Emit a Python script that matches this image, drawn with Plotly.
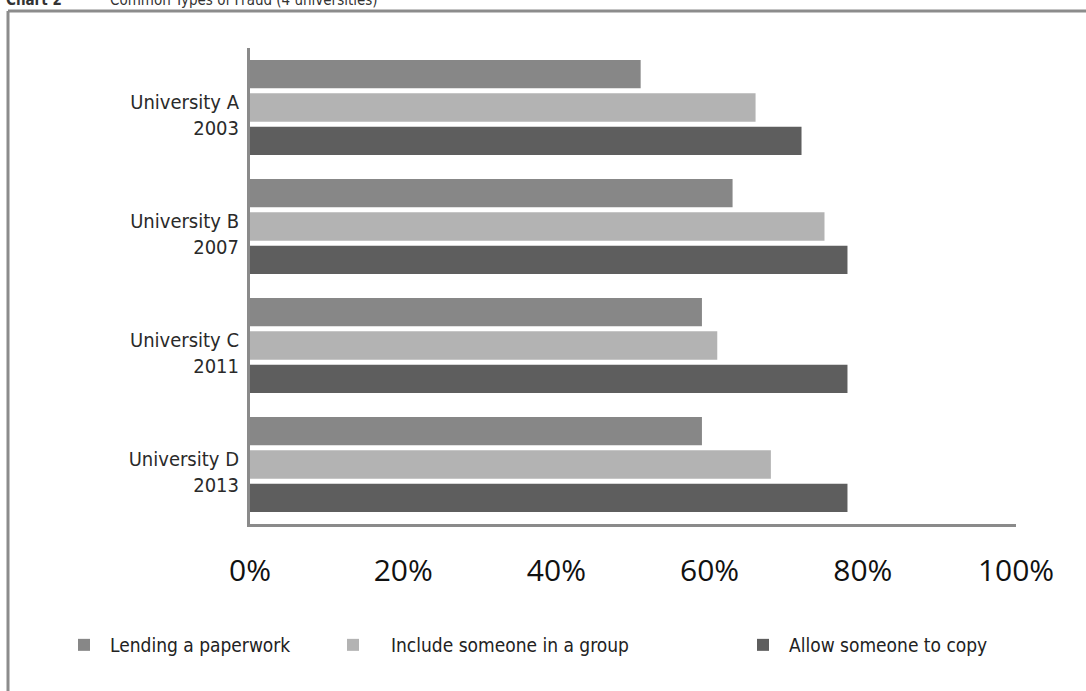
import plotly.graph_objects as go

# Survey results: share of students reporting each type of fraud
universities = ["University A<br>2003", "University B<br>2007",
                "University C<br>2011", "University D<br>2013"]
lending_paperwork = [51, 63, 59, 59]
include_in_group = [66, 75, 61, 68]
allow_copy = [72, 78, 78, 78]

series_names = ["Lending a paperwork", "Include someone in a group", "Allow someone to copy"]
series_values = [lending_paperwork, include_in_group, allow_copy]
series_colors = ["#878787", "#b3b3b3", "#5e5e5e"]
legend_ids = ["legend", "legend2", "legend3"]

x_ticks = [0, 20, 40, 60, 80, 100]
x_tick_text = [f"{v}%" for v in x_ticks]

W, H = 1086, 691
ML, MR, MT, MB = 250, 70, 48, 167
PW, PH = W - ML - MR, H - MT - MB


def px_to_paper_x(px):
    return (px - ML) / PW


def px_to_paper_y(py):
    return 1 - (py - MT) / PH


NARROW = "DejaVu Sans Condensed, Liberation Sans Narrow, sans-serif"

fig = go.Figure()
for name, vals, color, lg in zip(series_names, series_values, series_colors, legend_ids):
    fig.add_trace(go.Bar(
        y=universities, x=vals, name=name, orientation="h",
        marker=dict(color=color, line=dict(width=0)),
        legend=lg, showlegend=True,
    ))

legend_common = dict(
    orientation="h", xref="container", yref="container",
    yanchor="middle", y=1 - 645 / H, xanchor="left",
    font=dict(family=NARROW, size=19, color="#222"),
    bgcolor="rgba(0,0,0,0)",
)

fig.update_layout(
    width=W, height=H,
    margin=dict(l=ML, r=MR, t=MT, b=MB),
    paper_bgcolor="white", plot_bgcolor="white",
    showlegend=True,
    barmode="group", bargap=0.16, bargroupgap=0.15,
    legend=dict(legend_common, x=58 / W, itemwidth=42),
    legend2=dict(legend_common, x=315 / W, itemwidth=66),
    legend3=dict(legend_common, x=737 / W, itemwidth=42),
    xaxis=dict(
        range=[0, 100], tickvals=x_ticks, ticktext=x_tick_text,
        showgrid=False, zeroline=False,
        showline=True, linecolor="#8a8a8a", linewidth=3,
        ticks="", ticklabelstandoff=18,
        tickfont=dict(family="Open Sans, sans-serif", size=30, color="#111"),
    ),
    yaxis=dict(
        type="category", autorange="reversed",
        showgrid=False, zeroline=False,
        showline=True, linecolor="#8a8a8a", linewidth=3,
        ticks="", ticklabelstandoff=4, ticklabelshift=-7,
        tickfont=dict(family=NARROW, size=20, color="#2a2a2a"),
    ),
    shapes=[
        # outer frame: top and left edges
        dict(type="line", xref="paper", yref="paper",
             x0=px_to_paper_x(8), x1=px_to_paper_x(W + 5),
             y0=px_to_paper_y(11), y1=px_to_paper_y(11),
             line=dict(color="#8c8c8c", width=3)),
        dict(type="line", xref="paper", yref="paper",
             x0=px_to_paper_x(8), x1=px_to_paper_x(8),
             y0=px_to_paper_y(11), y1=px_to_paper_y(H + 5),
             line=dict(color="#8c8c8c", width=3)),
    ],
    annotations=[
        dict(text="<b>Chart 2</b>", xref="paper", yref="paper",
             x=px_to_paper_x(4), y=px_to_paper_y(11),
             xanchor="left", yanchor="bottom", showarrow=False,
             font=dict(family=NARROW, size=15, color="#333")),
        dict(text="Common Types of Fraud (4 universities)", xref="paper", yref="paper",
             x=px_to_paper_x(108), y=px_to_paper_y(11),
             xanchor="left", yanchor="bottom", showarrow=False,
             font=dict(family=NARROW, size=15, color="#333")),
    ],
)

fig.write_html("out.html")
